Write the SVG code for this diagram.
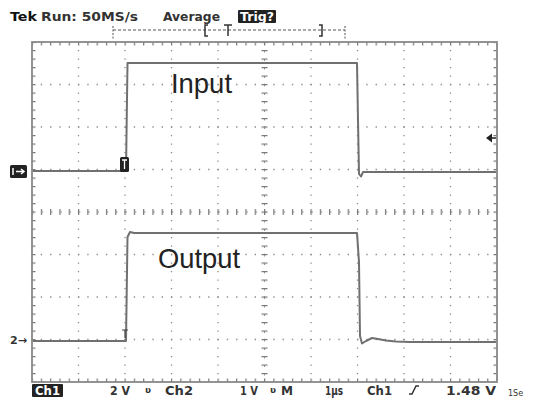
<svg xmlns="http://www.w3.org/2000/svg" width="534" height="398" viewBox="0 0 534 398">
<defs>
<pattern id="tickH" patternUnits="userSpaceOnUse" x="31.5" y="0" width="9.3" height="40"><rect x="0" y="0" width="1.2" height="40" fill="#777"/></pattern>
<pattern id="tickV" patternUnits="userSpaceOnUse" x="0" y="41.5" width="40" height="8.5"><rect x="0" y="0" width="40" height="1.2" fill="#777"/></pattern>
</defs>
<style>
.t{font-family:"DejaVu Sans","Liberation Sans",sans-serif;font-size:12px;fill:#333;font-weight:600;}
.grid{stroke:#888;stroke-width:1.3;fill:none;}
.wave{stroke:#707070;stroke-width:2;fill:none;stroke-linejoin:round;}
.inv{fill:#222;}
.lbl{font-family:"Liberation Sans",Arial,sans-serif;font-size:28px;fill:#222;}
</style>
<rect width="534" height="398" fill="#fff"/>
<g id="header">
<text class="t" x="10" y="21" style="fill:#111;font-weight:bold;font-size:13px" textLength="27" lengthAdjust="spacingAndGlyphs">Tek</text>
<text class="t" x="41" y="21" textLength="97" lengthAdjust="spacingAndGlyphs">Run: 50MS/s</text>
<text class="t" x="163" y="21" textLength="57" lengthAdjust="spacingAndGlyphs">Average</text>
<rect class="inv" x="238" y="10" width="38" height="13" rx="1"/>
<text class="t" x="240" y="21" style="fill:#fff;font-weight:bold" textLength="34" lengthAdjust="spacingAndGlyphs">Trig?</text>
</g>
<g id="trigger-bar" stroke="#555" fill="none" stroke-width="1">
<line x1="113" y1="30" x2="345" y2="30" stroke-dasharray="3 2"/>
<line x1="113" y1="26" x2="113" y2="39" stroke-dasharray="2 1.5"/>
<line x1="345" y1="26" x2="345" y2="39" stroke-dasharray="2 1.5"/>
<path d="M208,25 H205 V36 H208" stroke="#333" stroke-width="1.5"/>
<path d="M224,25 H232 M228,25 V36" stroke="#333" stroke-width="1.5"/>
<path d="M319,25 H322 V36 H319" stroke="#333" stroke-width="1.5"/>
</g>
<g id="graticule">
<g class="grid" stroke-dasharray="1.3 8">
<line x1="31.5" y1="84.5" x2="497" y2="84.5"/>
<line x1="31.5" y1="127" x2="497" y2="127"/>
<line x1="31.5" y1="169.5" x2="497" y2="169.5"/>
<line x1="31.5" y1="254.5" x2="497" y2="254.5"/>
<line x1="31.5" y1="297" x2="497" y2="297"/>
<line x1="31.5" y1="339.5" x2="497" y2="339.5"/>
</g>
<g class="grid" stroke-dasharray="1.3 7.2">
<line x1="78.5" y1="41.5" x2="78.5" y2="382"/>
<line x1="125" y1="41.5" x2="125" y2="382"/>
<line x1="171.5" y1="41.5" x2="171.5" y2="382"/>
<line x1="218" y1="41.5" x2="218" y2="382"/>
<line x1="311" y1="41.5" x2="311" y2="382"/>
<line x1="357.5" y1="41.5" x2="357.5" y2="382"/>
<line x1="404" y1="41.5" x2="404" y2="382"/>
<line x1="450.5" y1="41.5" x2="450.5" y2="382"/>
</g>
<line x1="32" y1="212" x2="497" y2="212" stroke="#999" stroke-width="1" stroke-dasharray="2 7.3"/>
<line x1="264.5" y1="42" x2="264.5" y2="382" stroke="#999" stroke-width="1" stroke-dasharray="2 6.5"/>
<rect x="32" y="42" width="465" height="3.5" fill="url(#tickH)"/>
<rect x="32" y="378.5" width="465" height="3.5" fill="url(#tickH)"/>
<rect x="32" y="42" width="3.5" height="340" fill="url(#tickV)"/>
<rect x="493.5" y="42" width="3.5" height="340" fill="url(#tickV)"/>
<rect x="32" y="209" width="465" height="6" fill="url(#tickH)"/>
<rect x="261.5" y="42" width="6" height="340" fill="url(#tickV)"/>
<rect x="32" y="42" width="465" height="340" fill="none" stroke="#888" stroke-width="1.8"/>
</g>
<g id="connectors">
<path id="ch1-trace" class="wave" d="M33,171 L126,171 L127.5,63 L357,63 L358,120 L359,174 L361,176.5 L363,172 L496,172"/>
<path id="ch2-trace" class="wave" d="M33,341 L126,341 L127.5,237 L130,232 L134,233 L357,233 L359,262 L360,336 L362,343.5 L366,341 L372,338 L378,339 L386,340.5 L396,341.5 L410,342 L496,342"/>
</g>
<g id="label-input"><text class="lbl" x="171" y="93" textLength="61" lengthAdjust="spacingAndGlyphs">Input</text></g>
<g id="label-output"><text class="lbl" x="158" y="268" textLength="82" lengthAdjust="spacingAndGlyphs">Output</text></g>
<g id="markers">
<rect class="inv" x="10" y="165" width="17" height="13" rx="1.5"/>
<path d="M13,168 V175 M16,171.5 H24 M21,169 L24,171.5 L21,174" stroke="#fff" stroke-width="1.5" fill="none"/>
<rect class="inv" x="120" y="157" width="9" height="15" rx="1.5"/>
<path d="M122,160 H127 M124.5,160 V169" stroke="#fff" stroke-width="1.3" fill="none"/>
<text class="t" x="10" y="344" style="font-size:11px" textLength="17" lengthAdjust="spacingAndGlyphs">2→</text>
<path d="M122,330 H128 M125,330 V338" stroke="#444" stroke-width="1.2" fill="none"/>
<polygon points="486,138 492,133.5 492,142.5" fill="#222"/>
<line x1="491" y1="138" x2="496" y2="138" stroke="#222" stroke-width="1.5"/>
</g>
<g id="footer">
<rect class="inv" x="32" y="384" width="31" height="13" rx="1"/>
<text class="t" x="35" y="395" style="fill:#fff;font-weight:bold" textLength="25" lengthAdjust="spacingAndGlyphs">Ch1</text>
<text class="t" x="110" y="395" textLength="20" lengthAdjust="spacingAndGlyphs">2 V</text>
<text class="t" x="145" y="393" style="font-size:9px">ʋ</text>
<text class="t" x="165" y="395" textLength="28" lengthAdjust="spacingAndGlyphs">Ch2</text>
<text class="t" x="240" y="395" textLength="18" lengthAdjust="spacingAndGlyphs">1 V</text>
<text class="t" x="270" y="393" style="font-size:9px">ʋ</text>
<text class="t" x="281" y="395" textLength="12" lengthAdjust="spacingAndGlyphs">M</text>
<text class="t" x="325" y="395" textLength="18" lengthAdjust="spacingAndGlyphs">1µs</text>
<text class="t" x="367" y="395" textLength="25" lengthAdjust="spacingAndGlyphs">Ch1</text>
<path d="M409,394 L412,394 L416,386 L419,386" stroke="#333" stroke-width="1.5" fill="none"/>
<text class="t" x="446" y="395" textLength="50" lengthAdjust="spacingAndGlyphs">1.48 V</text>
<text class="t" x="508" y="396" style="font-size:8px;font-weight:normal">1Se</text>
</g>
</svg>
